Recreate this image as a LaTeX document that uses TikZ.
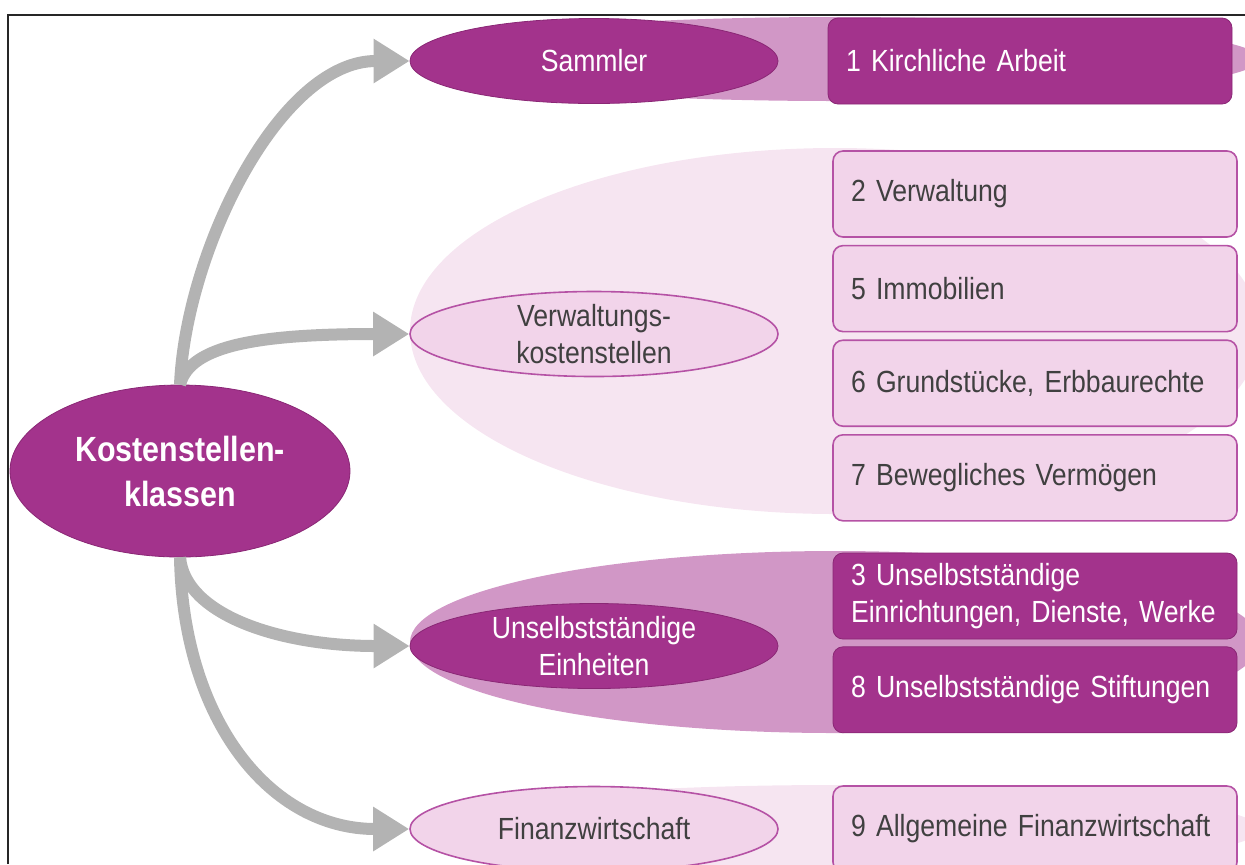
\documentclass[tikz,border=0pt]{standalone}
\usepackage{fontspec}
\setmainfont{Liberation Sans}[FakeStretch=0.87]
\usepackage{tikz}
\usetikzlibrary{positioning}
\usetikzlibrary{arrows.meta}
\usetikzlibrary{shapes.geometric}
\usepackage{xcolor}

\definecolor{kdark}{HTML}{A3338C}
\definecolor{kdarkline}{HTML}{8A2775}
\definecolor{kmid}{HTML}{D197C6}
\definecolor{klight}{HTML}{F2D4EA}
\definecolor{kband}{HTML}{F6E5F1}
\definecolor{kline}{HTML}{B552A5}
\definecolor{kgray}{HTML}{B3B3B3}
\definecolor{ktext}{HTML}{404040}

\newcommand{\kfont}{\fontsize{15.3}{18.5}\selectfont\spaceskip=3.2pt plus 1pt minus 0.5pt\relax}

\tikzset{
  oval/.style={ellipse, minimum width=184pt, minimum height=42.5pt, inner sep=0pt,
    align=center, font=\kfont},
  darkoval/.style={oval, draw=kdarkline, fill=kdark, text=white},
  lightoval/.style={oval, draw=kline, line width=0.8pt, fill=klight, text=ktext},
  box/.style={rectangle, rounded corners=5pt, minimum width=202pt, minimum height=43pt,
    inner xsep=9pt, text width=184pt, align=left, font=\kfont},
  darkbox/.style={box, draw=kdarkline, fill=kdark, text=white},
  lightbox/.style={box, draw=kline, line width=0.8pt, fill=klight, text=ktext},
  flow/.style={draw=kgray, line width=6pt, -{Triangle[length=18pt, width=21pt]}},
}

\begin{document}
\begin{tikzpicture}[x=0.5pt, y=-0.5pt]
  \useasboundingbox (0,0) rectangle (1245,864);
  % backgrounds of the rows
  \fill[kmid] (835,59) ellipse [x radius=212.5pt, y radius=21pt];
  \fill[kband] (835,331) ellipse [x radius=212.5pt, y radius=91.5pt];
  \fill[kmid] (835,642) ellipse [x radius=212.5pt, y radius=45.5pt];
  \fill[kband] (835,829) ellipse [x radius=212.5pt, y radius=22pt];
  % frame
  \draw[line width=1pt, black!85] (8,864) -- (8,15) -- (1245,15);

  \node (kst) [ellipse, fill=kdark, draw=kdarkline, minimum width=170pt, minimum height=86pt,
    inner sep=0pt, text=white, align=center, font=\fontsize{17.5}{22.5}\selectfont\bfseries]
    at (180,471) {Kostenstellen-\\klassen};

  \node (sammler) [darkoval] at (594,61) {Sammler};
  \node (verw) [lightoval] at (594,334) {Verwaltungs-\\kostenstellen};
  \node (unselb) [darkoval] at (594,646) {Unselbstst\"andige\\Einheiten};
  \node (finanz) [lightoval] at (594,829) {Finanzwirtschaft};

  \node (k1) [darkbox] at (1030,61) {1 Kirchliche Arbeit};
  \node (k2) [lightbox] at (1035,194) {2 Verwaltung};
  \node (k5) [lightbox, below=3.5pt of k2] {5 Immobilien};
  \node (k6) [lightbox, below=3.5pt of k5] {6 Grundst\"ucke, Erbbaurechte};
  \node (k7) [lightbox, below=3.5pt of k6] {7 Bewegliches Verm\"ogen};
  \node (k3) [darkbox] at (1035,596) {3 Unselbstst\"andige\\Einrichtungen, Dienste, Werke};
  \node (k8) [darkbox, below=3.5pt of k3] {8 Unselbstst\"andige Stiftungen};
  \node (k9) [lightbox] at (1035,829) {9 Allgemeine Finanzwirtschaft};

  \draw[flow] (kst.north) .. controls (186,250) and (280,61) .. (sammler.west);
  \draw[flow] (kst.north) .. controls (190,345) and (260,334) .. (verw.west);
  \draw[flow] (kst.south) .. controls (185,615) and (280,646) .. (unselb.west);
  \draw[flow] (kst.south) .. controls (183,720) and (270,829) .. (finanz.west);
\end{tikzpicture}
\end{document}
